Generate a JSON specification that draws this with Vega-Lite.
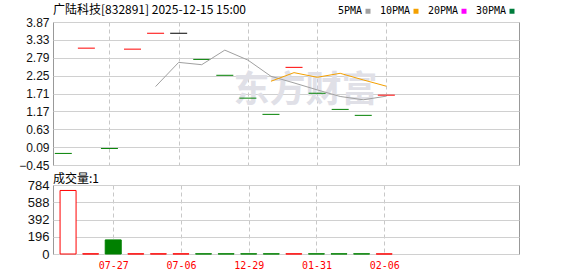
{
  "$schema": "https://vega.github.io/schema/vega-lite/v6.json",
  "background": "white",
  "padding": {"left": 0, "top": 3, "right": 0, "bottom": 0},
  "spacing": 0,
  "resolve": {"scale": {"stroke": "independent", "fill": "independent", "color": "independent", "y": "independent"}, "legend": {"stroke": "independent", "fill": "independent", "color": "independent"}},
  "config": {
    "view": {"stroke": "#999999", "strokeWidth": 1},
    "font": "Liberation Sans",
    "axis": {"gridColor": "#d0d0d0", "gridWidth": 1, "labelOverlap": false}
  },
  "datasets": {
    "candles": [
      {"i": 0, "p": -0.10, "dir": "down"},
      {"i": 1, "p": 3.08, "dir": "up"},
      {"i": 2, "p": 0.05, "dir": "down"},
      {"i": 3, "p": 3.05, "dir": "up"},
      {"i": 4, "p": 3.53, "dir": "up"},
      {"i": 5, "p": 3.53, "dir": "flat"},
      {"i": 6, "p": 2.74, "dir": "down"},
      {"i": 7, "p": 2.26, "dir": "down"},
      {"i": 8, "p": 1.57, "dir": "down"},
      {"i": 9, "p": 1.08, "dir": "down"},
      {"i": 10, "p": 2.50, "dir": "up"},
      {"i": 11, "p": 1.72, "dir": "down"},
      {"i": 12, "p": 1.23, "dir": "down"},
      {"i": 13, "p": 1.05, "dir": "down"},
      {"i": 14, "p": 1.66, "dir": "up"}
    ],
    "ma": [
      {"i": 4, "ma": "5PMA", "v": 1.92},
      {"i": 5, "ma": "5PMA", "v": 2.65},
      {"i": 6, "ma": "5PMA", "v": 2.58},
      {"i": 7, "ma": "5PMA", "v": 3.02},
      {"i": 8, "ma": "5PMA", "v": 2.72},
      {"i": 9, "ma": "5PMA", "v": 2.23},
      {"i": 10, "ma": "5PMA", "v": 2.03},
      {"i": 11, "ma": "5PMA", "v": 1.82},
      {"i": 12, "ma": "5PMA", "v": 1.62},
      {"i": 13, "ma": "5PMA", "v": 1.52},
      {"i": 14, "ma": "5PMA", "v": 1.63},
      {"i": 9, "ma": "10PMA", "v": 2.08},
      {"i": 10, "ma": "10PMA", "v": 2.34},
      {"i": 11, "ma": "10PMA", "v": 2.20},
      {"i": 12, "ma": "10PMA", "v": 2.32},
      {"i": 13, "ma": "10PMA", "v": 2.12},
      {"i": 14, "ma": "10PMA", "v": 1.93}
    ],
    "vol": [
      {"i": 0, "vol": 722, "vdir": "up"},
      {"i": 1, "vol": 2, "vdir": "up"},
      {"i": 2, "vol": 160, "vdir": "down"},
      {"i": 3, "vol": 2, "vdir": "up"},
      {"i": 4, "vol": 2, "vdir": "up"},
      {"i": 5, "vol": 2, "vdir": "up"},
      {"i": 6, "vol": 2, "vdir": "down"},
      {"i": 7, "vol": 2, "vdir": "down"},
      {"i": 8, "vol": 2, "vdir": "down"},
      {"i": 9, "vol": 2, "vdir": "down"},
      {"i": 10, "vol": 2, "vdir": "up"},
      {"i": 11, "vol": 2, "vdir": "down"},
      {"i": 12, "vol": 2, "vdir": "down"},
      {"i": 13, "vol": 2, "vdir": "down"},
      {"i": 14, "vol": 1, "vdir": "up"}
    ]
  },
  "vconcat": [
    {
      "width": 466,
      "height": 143,
      "title": {"text": "广陆科技[832891] 2025-12-15 15:00", "anchor": "start", "frame": "group", "font": "Noto Sans CJK SC", "fontSize": 12, "fontWeight": "normal", "color": "#000000", "offset": -11},
      "layer": [
        {
          "data": {"values": [{"wm": "东方财富"}]},
          "mark": {"type": "text", "font": "Noto Sans CJK SC", "fontSize": 36, "fontWeight": "bold", "color": "#e0e0e7"},
          "encoding": {
            "x": {"datum": 10.5, "type": "quantitative"},
            "y": {"datum": 1.8, "type": "quantitative"},
            "text": {"field": "wm", "type": "nominal"}
          }
        },
        {
          "data": {"name": "candles"},
          "mark": {"type": "tick", "orient": "horizontal", "size": 17, "thickness": 1, "opacity": 1},
          "encoding": {
            "x": {"field": "i", "type": "quantitative", "scale": {"domain": [-0.446, 19.75], "nice": false, "zero": false},
              "axis": {"values": [2, 5, 8, 11, 14], "tickCount": 5, "labels": false, "ticks": false, "domain": false, "title": null, "grid": true, "gridDash": [4, 3], "gridColor": "#c8c8c8"}},
            "y": {"field": "p", "type": "quantitative", "scale": {"domain": [-0.45, 3.87], "nice": false, "zero": false},
              "axis": {"values": [-0.45, 0.09, 0.63, 1.17, 1.71, 2.25, 2.79, 3.33, 3.87], "tickCount": 9, "grid": true, "gridColor": "#d0d0d0", "format": ".2f", "title": null, "domain": false, "ticks": false, "labelPadding": 4, "minExtent": 52, "maxExtent": 52, "labelFont": "Liberation Sans", "labelFontSize": 12, "labelColor": "#111111"}},
            "color": {"field": "dir", "type": "nominal", "scale": {"domain": ["up", "down", "flat"], "range": ["#ff0000", "#008000", "#000000"]}, "legend": null}
          }
        },
        {
          "data": {"name": "ma"},
          "mark": {"type": "line", "strokeWidth": 1},
          "encoding": {
            "x": {"field": "i", "type": "quantitative"},
            "y": {"field": "v", "type": "quantitative"},
            "stroke": {"field": "ma", "type": "nominal",
              "scale": {"domain": ["5PMA", "10PMA", "20PMA", "30PMA"], "range": ["#a0a0a0", "#f4a000", "#ff00ff", "#007d3c"]},
              "legend": {"orient": "none", "legendX": 310, "legendY": -16, "direction": "horizontal", "title": null, "symbolType": "square", "symbolSize": 1, "symbolStrokeWidth": 4, "labelFont": "DejaVu Sans Mono", "labelFontSize": 10, "labelColor": "#000000", "labelAlign": "right", "labelOffset": -11, "columnPadding": 2}}
          }
        }
      ]
    },
    {
      "width": 466,
      "height": 69,
      "title": {"text": "成交量:1", "anchor": "start", "frame": "group", "font": "Noto Sans CJK SC", "fontSize": 12, "fontWeight": "normal", "color": "#000000", "offset": -7},
      "data": {"name": "vol"},
      "mark": {"type": "bar", "orient": "vertical", "size": 16, "strokeWidth": 1},
      "encoding": {
        "x": {"field": "i", "type": "quantitative", "scale": {"domain": [-0.446, 19.75], "nice": false, "zero": false},
          "axis": {"values": [2, 5, 8, 11, 14], "tickCount": 5, "labelExpr": "datum.value==2?'07-27':datum.value==5?'07-06':datum.value==8?'12-29':datum.value==11?'01-31':'02-06'", "labelColor": "#ff0000", "labelFont": "DejaVu Sans Mono", "labelFontSize": 10, "ticks": false, "domain": false, "grid": true, "gridDash": [4, 3], "gridColor": "#c8c8c8", "labelPadding": 6, "title": null}},
        "y": {"field": "vol", "type": "quantitative", "scale": {"domain": [0, 784], "nice": false},
          "axis": {"values": [0, 196, 392, 588, 784], "tickCount": 5, "title": null, "domain": false, "ticks": false, "labelPadding": 4, "minExtent": 52, "maxExtent": 52, "labelFont": "Liberation Sans", "labelFontSize": 13, "labelColor": "#111111"}},
        "fill": {"field": "vdir", "type": "nominal", "scale": {"domain": ["up", "down"], "range": ["#ffffff", "#008000"]}, "legend": null},
        "stroke": {"field": "vdir", "type": "nominal", "scale": {"domain": ["up", "down"], "range": ["#ff0000", "#008000"]}, "legend": null}
      }
    }
  ]
}
